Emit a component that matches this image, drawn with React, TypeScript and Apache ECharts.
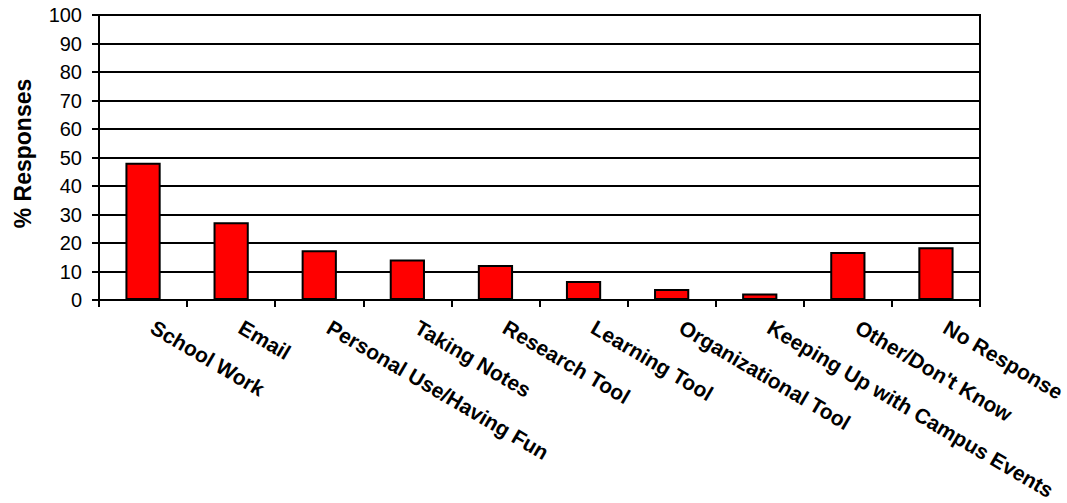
import React, { useEffect, useRef } from "react";
import * as echarts from "echarts";

const categories = [
  "School Work",
  "Email",
  "Personal Use/Having Fun",
  "Taking Notes",
  "Research Tool",
  "Learning Tool",
  "Organizational Tool",
  "Keeping Up with Campus Events",
  "Other/Don't Know",
  "No Response",
];
const values = [48.2, 27.3, 17.5, 14.2, 12.3, 6.7, 3.9, 2.3, 16.8, 18.5];
const yTicks = { min: 0, max: 100, interval: 10 };

export default function App() {
  const ref = useRef<HTMLDivElement>(null);
  useEffect(() => {
    if (!ref.current) return;
    const chart = echarts.init(ref.current, undefined, { renderer: "svg" });
    const font = "Liberation Sans, Arial, sans-serif";
    chart.setOption({
      animation: false,
      backgroundColor: "#ffffff",
      grid: {
        left: 99,
        right: 87,
        top: 15,
        bottom: 203,
        outerBoundsMode: "none",
        containLabel: false,
        show: true,
        borderColor: "#000",
        borderWidth: 2,
      },
      xAxis: {
        type: "category",
        data: categories,
        boundaryGap: true,
        axisLine: { show: true, lineStyle: { color: "#000", width: 2 } },
        axisTick: { show: true, length: 7, lineStyle: { color: "#000", width: 2 } },
        axisLabel: {
          interval: 0,
          rotate: -30.5,
          margin: 20,
          padding: [0, 0, 0, 11],
          color: "#000",
          fontFamily: font,
          fontWeight: "bold",
          fontSize: 21,
        },
        splitLine: { show: false },
      },
      yAxis: {
        type: "value",
        min: yTicks.min,
        max: yTicks.max,
        interval: yTicks.interval,
        name: "% Responses",
        nameLocation: "middle",
        nameGap: 65,
        nameTextStyle: {
          color: "#000",
          fontFamily: font,
          fontWeight: "bold",
          fontSize: 23,
          padding: [0, 0, 0, 8],
        },
        axisLine: { show: true, lineStyle: { color: "#000", width: 2 } },
        axisTick: { show: true, length: 7, lineStyle: { color: "#000", width: 2 } },
        axisLabel: {
          margin: 17,
          color: "#000",
          fontFamily: font,
          fontSize: 20,
        },
        splitLine: { show: true, lineStyle: { color: "#000", width: 2 } },
      },
      series: [
        {
          type: "bar",
          data: values,
          barWidth: "40%",
          itemStyle: { color: "#ff0000", borderColor: "#000", borderWidth: 2 },
        },
      ],
    });
    return () => chart.dispose();
  }, []);
  return (
    <div
      ref={ref}
      style={{ position: "absolute", left: 0, top: 0, width: 1067, height: 503 }}
    />
  );
}
